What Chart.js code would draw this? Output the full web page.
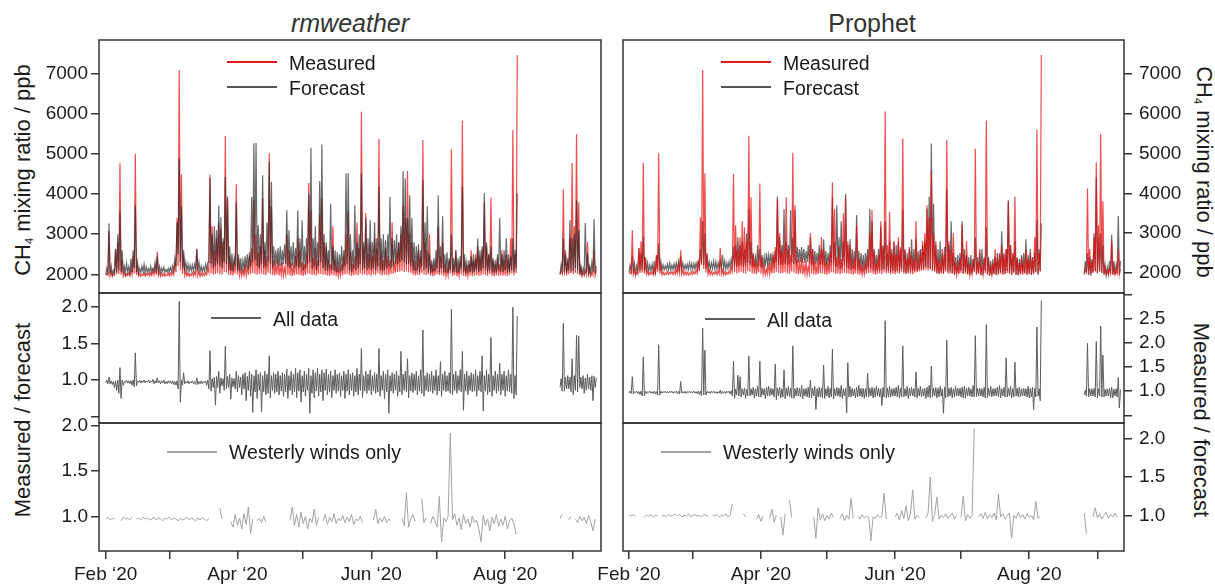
<!DOCTYPE html>
<html>
<head>
<meta charset="utf-8">
<script src="https://cdn.jsdelivr.net/npm/chart.js@4.4.1/dist/chart.umd.min.js"></script>
<style>
    body { margin: 0; width: 1215px; height: 584px; background: #fff; position: relative; overflow: hidden;
           font-family: "Liberation Sans", Arial, sans-serif; color: #1a1a1a; }
    canvas { position: absolute; }
    .txt { position: absolute; white-space: nowrap; line-height: 1; transform: translateY(-50%); font-size: 19.5px; }
    .ttl { position: absolute; white-space: nowrap; line-height: 1; transform: translate(-50%, -50%); font-size: 25px; color: #333; }
    .ax { position: absolute; white-space: nowrap; line-height: 1; font-size: 22px; }
    .ax sub { font-size: 11px; vertical-align: -3px; }
    .ln { position: absolute; height: 2px; width: 50px; }
</style>
</head>
<body>

<div class="ttl" style="left:350px;top:23px;font-style:italic">rmweather</div>
<div class="ttl" style="left:872px;top:23px">Prophet</div>

<div class="ax" style="left:23px;top:170px;transform:translate(-50%,-50%) rotate(-90deg)">CH<sub>4</sub> mixing ratio / ppb</div>
<div class="ax" style="left:1203px;top:172px;transform:translate(-50%,-50%) rotate(90deg)">CH<sub>4</sub> mixing ratio / ppb</div>
<div class="ax" style="left:23px;top:420px;transform:translate(-50%,-50%) rotate(-90deg)">Measured / forecast</div>
<div class="ax" style="left:1201px;top:420px;transform:translate(-50%,-50%) rotate(90deg)">Measured / forecast</div>

<canvas id="lt" width="610" height="293" style="left:0;top:20px"></canvas>
<canvas id="lm" width="610" height="170" style="left:0;top:273px"></canvas>
<canvas id="lb" width="610" height="181" style="left:0;top:403px"></canvas>
<canvas id="rt" width="625" height="293" style="left:590px;top:20px"></canvas>
<canvas id="rm" width="625" height="170" style="left:590px;top:273px"></canvas>
<canvas id="rb" width="625" height="181" style="left:590px;top:403px"></canvas>

<div class="ln" style="left:227px;top:61px;background:#e31a1c"></div>
<div class="txt" style="left:289px;top:64px">Measured</div>
<div class="ln" style="left:227px;top:86px;background:#555"></div>
<div class="txt" style="left:289px;top:89px">Forecast</div>
<div class="ln" style="left:721px;top:61px;background:#e31a1c"></div>
<div class="txt" style="left:783px;top:64px">Measured</div>
<div class="ln" style="left:721px;top:86px;background:#555"></div>
<div class="txt" style="left:783px;top:89px">Forecast</div>
<div class="ln" style="left:211px;top:317px;background:#5c5c5c"></div>
<div class="txt" style="left:273px;top:320px">All data</div>
<div class="ln" style="left:705px;top:318px;background:#5c5c5c"></div>
<div class="txt" style="left:767px;top:321px">All data</div>
<div class="ln" style="left:167px;top:451px;background:#a3a3a3"></div>
<div class="txt" style="left:229px;top:453px">Westerly winds only</div>
<div class="ln" style="left:661px;top:451px;background:#a3a3a3"></div>
<div class="txt" style="left:723px;top:453px">Westerly winds only</div>

<script>
// days counted from 1 Feb 2020; data stops 7 Aug and restarts 26 Aug
const dayRuns = [[0, 187], [207, 223]];
const monthDays = [0, 29, 60, 90, 121, 151, 182, 213];
const monthNames = ['Feb \u201820', '', 'Apr \u201820', '', 'Jun \u201820', '', 'Aug \u201820', ''];
const ppbTicks = [2000, 3000, 4000, 5000, 6000, 7000];
const ratioTicksRmw = [0.5, 1.0, 1.5, 2.0];
const ratioTicksPro = [0.5, 1.0, 1.5, 2.0, 2.5, 3.0];
const westTicks = [1.0, 1.5, 2.0];

// daily min / max of measured CH4 (ppb)
const measuredLo = [
    1970, 1990, 1960, 1950, 1980, 2000, 2010, 1990, 1960, 1950,
    1970, 1960, 1990, 2020, 1980, 1960, 1950, 1970, 1960, 1980,
    1960, 1970, 1990, 2000, 1970, 1950, 1960, 1950, 1970, 1960,
    1980, 1990, 2050, 2200, 2100, 2010, 1970, 1960, 1950, 1970,
    1960, 1980, 1970, 1950, 1960, 1970, 1990, 2050, 2020, 1990,
    2010, 2030, 2000, 1990, 2060, 2040, 1990, 1980, 1970, 2020,
    1990, 1970, 1960, 1980, 1970, 1990, 2000, 2030, 2010, 1990,
    2000, 2020, 1990, 1980, 2040, 2010, 1980, 1970, 1990, 1970,
    1980, 1960, 2000, 1990, 1970, 1960, 1980, 2000, 1990, 1970,
    1960, 1980, 2020, 2010, 1980, 1990, 1970, 2000, 2010, 1990,
    1980, 1970, 1960, 1990, 1970, 1960, 1950, 1970, 1980, 2000,
    2010, 1980, 1960, 1980, 1990, 1970, 2020, 1990, 2000, 1970,
    1990, 1970, 2000, 1980, 2030, 1990, 1970, 1990, 1980, 1970,
    2010, 2020, 2040, 2060, 2070, 2080, 2060, 2090, 2050, 2030,
    1990, 1970, 1990, 1980, 2040, 1990, 1980, 2000, 1960, 1950,
    1970, 2000, 1980, 1990, 1960, 1950, 1970, 2020, 1960, 1980,
    1950, 1960, 2000, 1960, 1940, 1950, 1970, 1950, 1960, 1980,
    1960, 1970, 2000, 1980, 1960, 2010, 1960, 1950, 1970, 1960,
    1980, 1960, 1970, 1960, 1990, 2020, 1970, 2030,
    1990, 2020, 1980, 1970, 2000, 2030, 2000, 2040, 2010, 1970, 1960, 1970, 1990, 1960, 1960, 1980, 1970
];
const measuredHi = [
    2020, 3080, 2060, 2010, 2620, 2800, 4770, 2350, 2040, 2010,
    2030, 2120, 2450, 5010, 2180, 2020, 2000, 2040, 2010, 2030,
    2040, 2090, 2180, 2570, 2060, 2030, 2020, 2000, 2040, 2030,
    2070, 2300, 3400, 7100, 4500, 2500, 2080, 2030, 2010, 2040,
    2050, 2630, 2080, 2030, 2020, 2050, 2150, 4490, 3200, 2600,
    2900, 3300, 3150, 2800, 5450, 3900, 2450, 2300, 2250, 4250,
    2400, 2150, 2100, 2250, 2200, 2450, 2650, 3850, 3000, 2550,
    2700, 3900, 2600, 2450, 5020, 3700, 2350, 2250, 2400, 2200,
    2300, 2150, 3000, 2600, 2300, 2200, 2450, 2900, 2600, 2300,
    2250, 2500, 4280, 3600, 2400, 2650, 2350, 3500, 3900, 2800,
    2700, 2350, 2250, 3200, 2350, 2200, 2150, 2250, 2450, 3000,
    3580, 2550, 2250, 2450, 3300, 2650, 6060, 2700, 3530, 2500,
    2800, 2450, 2900, 2650, 5380, 2550, 2350, 2650, 2450, 2350,
    3300, 2250, 2550, 2800, 3000, 3700, 3400, 4580, 3000, 2800,
    2350, 2250, 2600, 2450, 5350, 2800, 2600, 3000, 2250, 2200,
    2350, 3200, 2450, 2800, 2250, 2150, 2350, 5120, 2250, 2600,
    2150, 2350, 5830, 2350, 2150, 2250, 2600, 2350, 2500, 2700,
    2450, 2600, 3800, 2700, 2500, 3920, 2350, 2250, 2400, 2250,
    2600, 2350, 2500, 2350, 2900, 5600, 2500, 7475,
    2100, 4120, 2600, 2300, 2900, 4780, 3200, 5500, 3800, 2150, 2050, 2100, 2800, 2150, 2050, 2600, 2100
];

// daily min / max of the rmweather forecast (ppb)
const rmwLo = [
    2000, 2040, 2010, 1990, 2030, 2050, 2100, 2060, 2020, 2030,
    2040, 2030, 2060, 2150, 2060, 2040, 2050, 2060, 2040, 2050,
    2060, 2050, 2080, 2090, 2060, 2050, 2070, 2050, 2060, 2060,
    2070, 2090, 2200, 2500, 2300, 2150, 2090, 2080, 2070, 2090,
    2080, 2120, 2090, 2070, 2060, 2080, 2100, 2300, 2250, 2150,
    2200, 2250, 2200, 2150, 2300, 2250, 2100, 2080, 2090, 2200,
    2100, 2080, 2070, 2120, 2150, 2130, 2200, 2300, 2350, 2200,
    2150, 2250, 2150, 2200, 2300, 2250, 2150, 2200, 2250, 2200,
    2200, 2250, 2250, 2200, 2150, 2200, 2150, 2200, 2150, 2200,
    2100, 2150, 2250, 2300, 2150, 2200, 2100, 2200, 2300, 2150,
    2100, 2080, 2150, 2100, 2080, 2060, 2050, 2080, 2100, 2200,
    2250, 2100, 2050, 2150, 2100, 2150, 2250, 2100, 2150, 2100,
    2150, 2100, 2150, 2100, 2200, 2100, 2080, 2100, 2150, 2200,
    2150, 2200, 2250, 2250, 2300, 2350, 2300, 2250, 2250, 2200,
    2100, 2080, 2100, 2050, 2200, 2100, 2150, 2050, 2030, 2050,
    2080, 2150, 2050, 2150, 2040, 2050, 2030, 2100, 2040, 2060,
    2030, 2040, 2150, 2050, 2030, 2040, 2060, 2040, 2050, 2100,
    2050, 2080, 2150, 2100, 2050, 2100, 2040, 2030, 2050, 2100,
    2060, 2050, 2100, 2040, 2050, 2100, 2050, 2150,
    2000, 2100, 2050, 2040, 2100, 2050, 2080, 2150, 2100, 2000, 2000, 2050, 2040, 2020, 2030, 2060, 2020
];
const rmwHi = [
    2150, 3270, 2200, 2100, 2640, 3000, 3560, 2600, 2200, 2270,
    2180, 2390, 2600, 3725, 2300, 2150, 2200, 2250, 2180, 2140,
    2200, 2150, 2300, 2450, 2200, 2160, 2180, 2120, 2150, 2170,
    2200, 2400, 3300, 4890, 3700, 2600, 2300, 2250, 2220, 2230,
    2250, 2640, 2300, 2200, 2180, 2250, 2300, 4400, 3000, 3200,
    3100, 3710, 3430, 2900, 4430, 3940, 2700, 2520, 2400, 3800,
    2500, 2400, 2350, 2450, 2500, 2550, 3930, 5270, 5280, 3225,
    3000, 4470, 2800, 3300, 4800, 4310, 2700, 2600, 2650, 2700,
    2600, 2750, 3600, 3100, 2700, 2800, 2650, 3600, 2900, 3350,
    2700, 2900, 4000, 5160, 2900, 3200, 2800, 4330, 5240, 3000,
    2800, 2600, 3760, 2700, 2600, 2550, 2500, 2700, 2600, 4520,
    4520, 3000, 2600, 3725, 2800, 3000, 4520, 2800, 3400, 2900,
    3350, 2800, 3300, 2900, 4180, 2900, 3000, 2850, 3000, 3930,
    2900, 2850, 3000, 2800, 3200, 4575, 4400, 3400, 3970, 3400,
    2800, 2700, 2750, 2600, 4350, 3300, 3700, 2500, 2350, 2400,
    2600, 3975, 2700, 3450, 2500, 2550, 2400, 3000, 2400, 2600,
    2400, 2450, 4180, 2500, 2300, 2350, 2450, 2500, 2400, 2890,
    2600, 2700, 4020, 2800, 2500, 2700, 2400, 2350, 2500, 3400,
    2500, 2600, 2900, 2500, 2450, 2900, 2600, 4020,
    2250, 2900, 2500, 2400, 3350, 2900, 3000, 3850, 3100, 2200, 2150, 3280, 2520, 2200, 2300, 3380, 2200
];

// daily min / max of the Prophet forecast (ppb)
const proLo = [
    2020, 2050, 2000, 1960, 2040, 2060, 2080, 2050, 2030, 2040,
    2050, 2030, 1950, 2080, 2060, 2070, 2080, 2090, 2080, 2070,
    2090, 2080, 2100, 2110, 2090, 2080, 2100, 2090, 2100, 2090,
    2100, 2110, 2150, 2250, 2200, 2100, 2090, 2100, 2110, 2100,
    2090, 2120, 2130, 2100, 2090, 2110, 2130, 2200, 2180, 2150,
    2180, 2200, 2150, 2170, 2250, 2200, 2150, 2140, 2160, 2180,
    2150, 2130, 2160, 2200, 2220, 2200, 2230, 2280, 2200, 2220,
    2200, 2230, 2200, 2240, 2260, 2230, 2200, 2250, 2280, 2260,
    2250, 2270, 2240, 2200, 2180, 2220, 2200, 2230, 2200, 2180,
    2150, 2180, 2250, 2200, 2150, 2180, 2100, 2150, 2200, 2120,
    2100, 2080, 2120, 2100, 2060, 2080, 2050, 2070, 2090, 2150,
    2100, 2060, 2040, 2080, 2050, 2070, 2100, 2050, 2060, 2030,
    2050, 2020, 2060, 2040, 2100, 2030, 2000, 2020, 2040, 2060,
    2050, 2060, 2100, 2080, 2120, 2150, 2130, 2100, 2080, 2060,
    2000, 1980, 2020, 1990, 2080, 2020, 2040, 1980, 1960, 1990,
    2000, 2050, 1990, 2030, 1970, 1950, 1980, 2050, 1980, 2000,
    1940, 1960, 2050, 1970, 1930, 1950, 1980, 1960, 1970, 2020,
    1970, 1990, 2050, 2000, 1960, 2020, 1950, 1940, 1970, 1990,
    2000, 1960, 1980, 1950, 1970, 2030, 1960, 2050,
    1960, 2000, 1950, 1930, 2020, 2050, 1990, 2040, 2000, 1960, 1950, 1970, 1990, 1960, 1950, 2000, 1960
];
const proHi = [
    2200, 2420, 2250, 2180, 2630, 2500, 2915, 2400, 2250, 2200,
    2220, 2300, 2450, 2750, 2300, 2200, 2180, 2220, 2250, 2200,
    2230, 2250, 2300, 2420, 2250, 2200, 2220, 2260, 2240, 2230,
    2250, 2300, 2600, 3300, 3000, 2450, 2280, 2250, 2300, 2280,
    2260, 2300, 2460, 2300, 2250, 2280, 2350, 2660, 2700, 2900,
    2700, 2800, 2600, 3000, 3600, 2800, 2500, 2400, 2700, 2600,
    2450, 2400, 2500, 2450, 2500, 2450, 2550, 3920, 2900, 2700,
    3600, 2800, 2700, 3580, 2900, 3580, 2650, 2600, 2650, 2600,
    2550, 2700, 2900, 2600, 2550, 2500, 2700, 2600, 2850, 2550,
    2500, 2700, 3900, 2800, 3700, 2900, 3300, 2800, 3990, 2700,
    2850, 2600, 2550, 3460, 2550, 2500, 2450, 2500, 2600, 3610,
    3300, 2600, 2450, 2600, 3160, 2700, 3300, 2500, 2800, 2600,
    2780, 2700, 2780, 2600, 3580, 2600, 2500, 2600, 2850, 2600,
    2850, 2550, 2600, 2700, 2800, 3620, 3920, 5250, 3740, 2700,
    2600, 2800, 2500, 2650, 4110, 2700, 3300, 2500, 2400, 2450,
    2500, 3300, 2600, 2450, 2400, 2450, 2350, 2900, 2400, 2500,
    2600, 2400, 3150, 2400, 2300, 2350, 2400, 2500, 2450, 3050,
    2500, 2600, 3830, 2700, 2450, 2800, 2400, 2350, 2450, 2500,
    2850, 2450, 2600, 2400, 2500, 3330, 2600, 3250,
    2300, 2500, 2400, 2350, 3000, 4400, 2900, 3000, 2700, 2200, 2150, 2300, 2960, 2300, 2200, 3430, 2300
];

// daily min / max of measured / forecast, rmweather
const ratioRmwLo = [
    0.96, 0.95, 0.95, 0.94, 0.90, 0.86, 0.82, 0.75, 0.93, 0.97,
    0.96, 0.95, 0.93, 0.91, 0.92, 0.97, 0.96, 0.97, 0.96, 0.97,
    0.96, 0.97, 0.95, 0.96, 0.96, 0.95, 0.96, 0.95, 0.95, 0.96,
    0.95, 0.94, 0.93, 0.88, 0.70, 0.93, 0.95, 0.96, 0.95, 0.96,
    0.95, 0.94, 0.94, 0.95, 0.95, 0.96, 0.93, 0.88, 0.85, 0.90,
    0.66, 0.90, 0.82, 0.92, 0.86, 0.88, 0.90, 0.74, 0.91, 0.88,
    0.84, 0.90, 0.80, 0.88, 0.72, 0.86, 0.78, 0.56, 0.84, 0.75,
    0.86, 0.57, 0.84, 0.80, 0.82, 0.76, 0.86, 0.82, 0.84, 0.80,
    0.85, 0.78, 0.84, 0.75, 0.86, 0.80, 0.84, 0.76, 0.85, 0.70,
    0.84, 0.78, 0.86, 0.55, 0.82, 0.76, 0.85, 0.78, 0.84, 0.72,
    0.86, 0.80, 0.84, 0.76, 0.86, 0.82, 0.85, 0.78, 0.86, 0.75,
    0.85, 0.80, 0.86, 0.78, 0.84, 0.80, 0.86, 0.76, 0.85, 0.82,
    0.86, 0.80, 0.85, 0.82, 0.84, 0.78, 0.86, 0.75, 0.84, 0.55,
    0.85, 0.82, 0.86, 0.78, 0.84, 0.80, 0.86, 0.84, 0.76, 0.85,
    0.83, 0.86, 0.80, 0.85, 0.82, 0.78, 0.86, 0.84, 0.85, 0.82,
    0.86, 0.80, 0.85, 0.78, 0.86, 0.84, 0.85, 0.82, 0.80, 0.86,
    0.82, 0.86, 0.84, 0.59, 0.85, 0.80, 0.86, 0.84, 0.85, 0.78,
    0.86, 0.84, 0.58, 0.85, 0.80, 0.84, 0.78, 0.86, 0.82, 0.85,
    0.80, 0.86, 0.78, 0.85, 0.84, 0.82, 0.75, 0.80,
    0.90, 0.85, 0.85, 0.88, 0.88, 0.84, 0.80, 0.86, 0.84, 0.90, 0.88, 0.82, 0.86, 0.88, 0.86, 0.72, 0.90
];
const ratioRmwHi = [
    1.00, 1.04, 0.99, 0.98, 0.99, 1.00, 1.17, 1.00, 0.98, 1.00,
    0.99, 0.99, 1.00, 1.37, 0.99, 1.00, 0.99, 1.00, 0.99, 1.00,
    0.99, 1.01, 0.99, 1.03, 0.99, 0.99, 1.00, 0.98, 0.99, 0.99,
    0.99, 0.98, 0.99, 2.07, 1.00, 1.10, 0.98, 0.99, 0.98, 0.99,
    0.98, 1.03, 0.98, 0.99, 0.98, 0.99, 1.00, 1.40, 1.02, 1.04,
    1.05, 1.12, 1.03, 1.02, 1.46, 1.05, 1.08, 1.03, 1.02, 1.12,
    1.06, 1.04, 1.08, 1.10, 1.05, 1.12, 1.08, 1.06, 1.14, 1.08,
    1.10, 1.06, 1.12, 1.08, 1.33, 1.06, 1.10, 1.08, 1.12, 1.06,
    1.10, 1.08, 1.15, 1.06, 1.12, 1.08, 1.16, 1.10, 1.14, 1.06,
    1.12, 1.08, 1.16, 1.06, 1.14, 1.10, 1.16, 1.08, 1.14, 1.10,
    1.15, 1.08, 1.12, 1.06, 1.14, 1.08, 1.10, 1.06, 1.12, 1.08,
    1.14, 1.08, 1.10, 1.06, 1.16, 1.08, 1.43, 1.06, 1.12, 1.08,
    1.14, 1.06, 1.10, 1.08, 1.43, 1.06, 1.12, 1.08, 1.14, 1.06,
    1.10, 1.08, 1.12, 1.06, 1.39, 1.08, 1.12, 1.29, 1.06, 1.10,
    1.08, 1.12, 1.06, 1.14, 1.68, 1.06, 1.10, 1.08, 1.12, 1.06,
    1.14, 1.06, 1.25, 1.08, 1.12, 1.06, 1.10, 1.96, 1.08, 1.12,
    1.06, 1.14, 1.39, 1.08, 1.12, 1.06, 1.10, 1.08, 1.14, 1.06,
    1.12, 1.33, 1.06, 1.14, 1.08, 1.58, 1.06, 1.12, 1.08, 1.23,
    1.08, 1.12, 1.06, 1.14, 1.08, 1.99, 1.06, 1.87,
    1.02, 1.77, 1.04, 1.06, 1.04, 1.29, 1.06, 1.61, 1.60, 1.04, 1.06, 1.03, 1.08, 1.04, 1.06, 1.05, 1.03
];

// daily min / max of measured / forecast, Prophet
const ratioProLo = [
    0.96, 0.95, 0.94, 0.97, 0.95, 0.93, 0.90, 0.90, 0.95, 0.97,
    0.96, 0.95, 0.94, 0.92, 0.92, 0.96, 0.97, 0.96, 0.96, 0.97,
    0.96, 0.97, 0.95, 0.94, 0.96, 0.96, 0.95, 0.97, 0.96, 0.97,
    0.96, 0.95, 0.93, 0.90, 0.92, 0.92, 0.96, 0.95, 0.97, 0.96,
    0.95, 0.96, 0.94, 0.96, 0.95, 0.97, 0.94, 0.90, 0.85, 0.92,
    0.90, 0.88, 0.92, 0.85, 0.90, 0.90, 0.92, 0.86, 0.90, 0.88,
    0.88, 0.92, 0.85, 0.90, 0.90, 0.92, 0.88, 0.82, 0.90, 0.86,
    0.88, 0.84, 0.90, 0.88, 0.86, 0.85, 0.90, 0.90, 0.88, 0.84,
    0.90, 0.88, 0.86, 0.86, 0.90, 0.62, 0.88, 0.88, 0.86, 0.85,
    0.90, 0.86, 0.88, 0.84, 0.90, 0.90, 0.88, 0.85, 0.90, 0.55,
    0.88, 0.88, 0.90, 0.86, 0.88, 0.90, 0.88, 0.85, 0.88, 0.88,
    0.90, 0.86, 0.88, 0.90, 0.88, 0.70, 0.88, 0.86, 0.88, 0.88,
    0.90, 0.90, 0.88, 0.86, 0.88, 0.88, 0.90, 0.85, 0.90, 0.90,
    0.88, 0.86, 0.90, 0.88, 0.90, 0.85, 0.88, 0.86, 0.88, 0.90,
    0.86, 0.88, 0.90, 0.54, 0.86, 0.88, 0.90, 0.86, 0.88, 0.90,
    0.90, 0.88, 0.86, 0.86, 0.90, 0.90, 0.88, 0.88, 0.88, 0.90,
    0.90, 0.88, 0.86, 0.86, 0.90, 0.88, 0.90, 0.90, 0.88, 0.86,
    0.90, 0.88, 0.88, 0.90, 0.86, 0.88, 0.90, 0.88, 0.88, 0.90,
    0.90, 0.88, 0.86, 0.88, 0.62, 0.88, 0.90, 0.80,
    0.92, 0.90, 0.88, 0.90, 0.90, 0.88, 0.86, 0.90, 0.88, 0.88, 0.90, 0.90, 0.86, 0.86, 0.90, 0.88, 0.65
];
const ratioProHi = [
    1.00, 1.30, 0.99, 1.00, 0.99, 1.00, 1.71, 1.00, 0.99, 1.00,
    0.99, 1.00, 0.99, 1.96, 1.00, 0.99, 1.00, 0.99, 1.00, 1.00,
    0.99, 1.00, 1.00, 1.20, 0.99, 1.00, 0.99, 1.00, 0.99, 1.00,
    0.99, 1.00, 1.00, 2.31, 1.85, 1.00, 0.99, 1.00, 1.00, 0.99,
    0.99, 1.02, 1.00, 0.99, 1.00, 1.00, 1.01, 1.62, 1.04, 1.33,
    1.30, 1.05, 1.06, 1.04, 1.73, 1.05, 1.08, 1.05, 1.10, 1.62,
    1.06, 1.05, 1.08, 1.10, 1.06, 1.05, 1.56, 1.06, 1.08, 1.05,
    1.44, 1.06, 1.10, 1.06, 1.94, 1.05, 1.08, 1.06, 1.12, 1.05,
    1.06, 1.08, 1.23, 1.06, 1.10, 1.05, 1.08, 1.06, 1.54, 1.05,
    1.10, 1.06, 1.87, 1.05, 1.08, 1.06, 1.12, 1.05, 1.06, 1.59,
    1.10, 1.06, 1.05, 1.08, 1.12, 1.06, 1.06, 1.05, 1.37, 1.06,
    1.08, 1.06, 1.10, 1.06, 1.05, 1.08, 2.46, 1.06, 1.10, 1.05,
    1.06, 1.08, 1.12, 1.06, 1.94, 1.05, 1.10, 1.06, 1.08, 1.05,
    1.40, 1.06, 1.10, 1.05, 1.06, 1.08, 1.12, 1.52, 1.06, 1.08,
    1.06, 1.10, 1.05, 1.08, 2.06, 1.06, 1.08, 1.05, 1.10, 1.06,
    1.06, 1.08, 1.10, 1.06, 1.08, 1.05, 1.12, 2.15, 1.06, 1.06,
    1.05, 1.08, 2.38, 1.06, 1.10, 1.05, 1.06, 1.08, 1.12, 1.05,
    1.08, 1.69, 1.06, 1.10, 1.05, 1.60, 1.06, 1.08, 1.05, 1.06,
    1.05, 1.10, 1.06, 1.08, 1.06, 2.33, 1.05, 2.88,
    1.02, 1.99, 1.05, 1.05, 1.06, 2.03, 1.05, 2.35, 1.75, 1.04, 1.05, 1.06, 1.08, 1.04, 1.05, 1.28, 1.03
];

// westerly winds only, one value a day (null = no westerly data that day)
const westRmw = [
    0.97, 0.99, 0.96, 0.98, 0.97, null, null, 0.95, 0.99, 0.97,
    0.98, 0.96, 0.99, null, 0.97, 0.98, 0.96, 0.99, 0.97, 0.98,
    0.96, 0.97, 0.99, 0.96, 0.98, 0.97, 0.95, 0.98, 0.97, 0.99,
    0.96, 0.98, 0.97, 0.95, 0.98, 0.96, 0.97, 0.99, 0.96, 0.98,
    0.97, 0.95, 0.98, 0.96, 0.99, 0.97, 0.95, 0.98, null, null,
    null, null, 1.09, 0.97, null, null, null, 0.94, 0.88, 1.02,
    0.90, 0.98, 0.86, 1.03, 0.91, 1.10, 0.81, 0.97, null, 0.95,
    0.98, 0.93, 1.00, 0.94, null, null, null, null, null, null,
    null, null, null, null, 0.96, 1.10, 0.90, 1.02, 0.88, 1.05,
    0.92, 1.00, 0.86, 0.98, 0.93, 1.08, 0.90, 0.99, null, 0.95,
    1.02, 0.91, 0.99, 0.94, 1.03, 0.92, 0.98, 0.95, 1.01, 0.93,
    0.99, 0.94, 1.02, 0.91, 0.97, 0.95, 1.00, 0.93, null, null,
    null, null, 0.96, 1.08, 0.92, 0.98, 0.94, 1.00, 0.93, 0.97,
    0.95, null, null, null, null, 0.98, 0.90, 1.26, 0.88, 0.97,
    1.02, 0.94, null, null, 1.20, 0.93, 0.98, null, 0.92, 1.00,
    0.95, 0.88, 1.22, 0.72, 0.98, 0.94, 1.00, 1.92, 0.96, 1.03,
    0.90, 0.98, 0.85, 1.02, 0.92, 0.97, 0.88, 1.00, 0.93, 0.96,
    0.86, 0.72, 1.01, 0.90, 0.97, 0.84, 0.99, 0.92, 1.02, 0.89,
    0.97, 0.90, 1.00, 0.86, 0.95, 0.98, 0.92, 0.80,
    0.98, 1.02, null, null, 0.96, 1.00, null, 0.97, 0.93, 1.00, 0.95, 0.99, 0.92, 1.01, 0.94, 0.84, 0.97
];
const westPro = [
    1.00, 0.99, 1.01, 0.99, null, null, null, 0.98, 1.00, 0.99,
    1.01, 0.98, 1.00, 0.99, null, 0.99, 1.00, 0.98, 1.01, 0.99,
    1.00, 1.02, 0.99, 1.01, 0.98, 1.00, 0.99, 1.02, 0.98, 1.00,
    1.01, 0.99, 1.00, 0.98, 1.01, 1.00, 0.99, null, 1.00, 0.99,
    1.01, 0.98, 1.00, 0.99, 1.02, 0.98, 1.00, 1.15, null, null,
    null, null, 1.02, 0.98, null, null, null, null, 0.95, 1.01,
    0.92, 0.99, null, null, 0.96, 1.08, 0.91, 1.00, null, 0.98,
    0.74, 1.02, null, 1.20, 0.97, null, null, null, null, null,
    null, null, null, null, 0.98, 0.70, 1.10, 0.94, 1.02, 0.93,
    1.00, 0.95, 1.03, 0.97, null, null, 0.96, 1.02, 0.93, 1.00,
    0.95, 1.22, 0.96, null, 0.99, 0.95, 1.01, 0.96, 0.99, 0.97,
    0.67, 0.98, 0.96, 1.01, 0.97, 0.99, 1.29, 0.95, null, null,
    null, 0.98, 1.03, 0.94, 1.06, 0.96, 1.12, 0.93, 1.02, 1.33,
    0.95, 1.00, 0.97, null, null, 0.96, 1.03, 1.50, 0.92, 1.01,
    1.24, 0.95, 1.00, 0.97, 1.02, 0.96, 0.99, 1.03, 0.95, 1.00,
    null, 0.97, 1.25, 0.93, 1.01, 0.96, 1.00, 2.13, null, 0.98,
    1.02, 0.96, 1.04, 0.95, 1.01, 0.97, 1.03, 0.94, 1.28, 0.98,
    1.02, 0.95, 0.99, 1.03, 0.70, 1.00, 0.96, 1.04, 0.97, 1.01,
    0.95, 1.02, 0.97, 1.00, 0.94, 1.18, 0.96, 0.99,
    1.03, 0.76, null, null, 0.98, 1.10, 0.97, 1.02, 0.95, 1.00, 1.04, 0.96, 1.01, 0.98, 1.03, 0.97, null
];

const days = [];
dayRuns.forEach(function (r) {
    for (let d = r[0]; d <= r[1]; d++) days.push(d);
});

// min at the start of the day, max half a day later; a null breaks the line over the gap
function envelope(lo, hi) {
    const pts = [];
    days.forEach(function (d, i) {
        if (i > 0 && d - days[i - 1] > 1) pts.push({x: days[i - 1] + 1, y: null});
        pts.push({x: d, y: lo[i]});
        pts.push({x: d + 0.5, y: hi[i]});
    });
    return pts;
}

function daily(vals) {
    const pts = [];
    days.forEach(function (d, i) {
        if (i > 0 && d - days[i - 1] > 1) pts.push({x: days[i - 1] + 1, y: null});
        pts.push({x: d, y: vals[i]});
    });
    return pts;
}

const frame = {
    id: 'frame',
    afterDraw: function (chart) {
        const a = chart.chartArea;
        const c = chart.ctx;
        c.save();
        c.strokeStyle = '#333';
        c.lineWidth = 1.5;
        c.strokeRect(a.left, a.top, a.right - a.left, a.bottom - a.top);
        c.restore();
    }
};

Chart.defaults.font.family = '"Liberation Sans", Arial, sans-serif';
Chart.defaults.color = '#1a1a1a';

const tickGrid = {drawOnChartArea: false, drawTicks: true, tickLength: 8, color: '#333', lineWidth: 1.5};

function panel(id, o) {
    return new Chart(document.getElementById(id), {
        type: 'line',
        data: {datasets: o.datasets},
        options: {
            responsive: false,
            animation: false,
            events: [],
            layout: {padding: o.pad},
            plugins: {legend: {display: false}, tooltip: {enabled: false}},
            elements: {point: {radius: 0}, line: {borderWidth: o.lw || 1, tension: 0}},
            spanGaps: false,
            scales: {
                x: {
                    type: 'linear', min: o.xMin, max: o.xMax, display: o.showX,
                    afterBuildTicks: function (s) { s.ticks = monthDays.map(function (v) { return {value: v}; }); },
                    afterFit: function (s) { if (o.showX) s.height = 33; },
                    grid: tickGrid,
                    border: {display: false},
                    ticks: {padding: 4, maxRotation: 0, autoSkip: false, font: {size: 19},
                            callback: function (v, i) { return monthNames[i]; }}
                },
                y: {
                    type: 'linear', position: o.right ? 'right' : 'left', min: o.yMin, max: o.yMax,
                    afterBuildTicks: function (s) { s.ticks = o.yTicks.map(function (v) { return {value: v}; }); },
                    afterFit: function (s) { s.width = o.yWidth; },
                    grid: tickGrid,
                    border: {display: false},
                    ticks: {padding: o.right ? 7 : 3, autoSkip: false, font: {size: 19}, callback: o.yLabel}
                }
            }
        },
        plugins: [frame]
    });
}

const red = 'rgba(232, 10, 10, 0.72)';
const dark = 'rgba(35, 35, 35, 0.68)';
const ratioGrey = '#5c5c5c';
const westGrey = '#a3a3a3';

function ppbLabel(v) { return String(v); }
function ratioLabel(v) { return (v === 0.5 || v === 3) ? '' : v.toFixed(1); }

const L = {xMin: -3.05, xMax: 225.65, yWidth: 99, right: false};
const R = {xMin: -2.73, xMax: 225.1, yWidth: 75, right: true};

panel('lt', Object.assign({}, L, {
    pad: {left: 0, right: 9, top: 20, bottom: 20}, showX: false, lw: 1.2,
    yMin: 1533, yMax: 7849, yTicks: ppbTicks, yLabel: ppbLabel,
    datasets: [
        {data: envelope(rmwLo, rmwHi), borderColor: dark},
        {data: envelope(measuredLo, measuredHi), borderColor: red}
    ]
}));
panel('lm', Object.assign({}, L, {
    pad: {left: 0, right: 9, top: 20, bottom: 20}, showX: false,
    yMin: 0.417, yMax: 2.183, yTicks: ratioTicksRmw, yLabel: ratioLabel,
    datasets: [{data: envelope(ratioRmwLo, ratioRmwHi), borderColor: ratioGrey}]
}));
panel('lb', Object.assign({}, L, {
    pad: {left: 0, right: 9, top: 20, bottom: 0}, showX: true,
    yMin: 0.617, yMax: 2.031, yTicks: westTicks, yLabel: ratioLabel,
    datasets: [{data: daily(westRmw), borderColor: westGrey}]
}));
panel('rt', Object.assign({}, R, {
    pad: {left: 33, right: 16, top: 20, bottom: 20}, showX: false, lw: 1.2,
    yMin: 1498, yMax: 7853, yTicks: ppbTicks, yLabel: ppbLabel,
    datasets: [
        {data: envelope(measuredLo, measuredHi), borderColor: red},
        {data: envelope(proLo, proHi), borderColor: dark}
    ]
}));
panel('rm', Object.assign({}, R, {
    pad: {left: 33, right: 16, top: 20, bottom: 20}, showX: false,
    yMin: 0.34, yMax: 3.035, yTicks: ratioTicksPro, yLabel: ratioLabel,
    datasets: [{data: envelope(ratioProLo, ratioProHi), borderColor: ratioGrey}]
}));
panel('rb', Object.assign({}, R, {
    pad: {left: 33, right: 16, top: 20, bottom: 0}, showX: true,
    yMin: 0.535, yMax: 2.203, yTicks: westTicks, yLabel: ratioLabel,
    datasets: [{data: daily(westPro), borderColor: westGrey}]
}));
</script>
</body>
</html>
